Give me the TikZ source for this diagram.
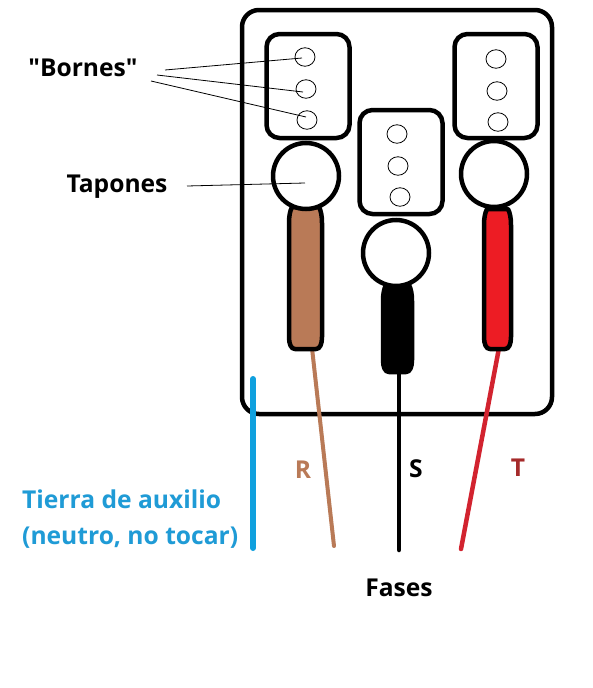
\documentclass[tikz,border=0pt]{standalone}
\usepackage{fontspec}
\setmainfont{Open Sans}
\newfontfamily\labfont{Open Sans}[Ligatures=NoCommon]
\definecolor{brownw}{HTML}{B97A57}
\definecolor{redw}{HTML}{ED1C24}
\definecolor{redwire}{HTML}{D2232F}
\definecolor{bluew}{HTML}{0FA0DE}
\definecolor{bluet}{HTML}{1F9BD6}
\definecolor{redt}{HTML}{A52A2A}
\usetikzlibrary{shapes.geometric}
\tikzset{
  outerbox/.style={draw=black,line width=4.5pt,rounded corners=17pt,minimum width=310pt,minimum height=404pt,inner sep=0pt,outer sep=0pt},
  bornebox/.style={draw=black,line width=4.5pt,rounded corners=13pt,minimum width=83pt,minimum height=104pt,inner sep=0pt,outer sep=0pt},
  borne/.style={draw=black,line width=0.8pt,ellipse,minimum width=20pt,minimum height=18.5pt,inner sep=0pt,outer sep=0pt},
  tapon/.style={draw=black,fill=white,line width=4.5pt,circle,minimum size=66pt,inner sep=0pt,outer sep=0pt},
  mangostyle/.style={draw=black,line width=4.5pt,line join=round},
  wire/.style={line width=#1,line cap=round},
  leader/.style={draw=black,line width=0.8pt},
  lab/.style={font=\labfont\bfseries\fontsize{24.6}{30}\selectfont,inner sep=0pt}
}
% left x, right x, top y, bottom y, fill
\newcommand{\mangopath}[5]{%
  \draw[mangostyle,fill=#5]
    ({#1+3},{#3}) .. controls ({#1+1},{#3+4}) and ({#1},{#3+9}) .. ({#1},{#3+16})
    -- ({#1},{#4-12}) .. controls ({#1},{#4-5}) and ({#1+2},{#4}) .. ({#1+6},{#4})
    -- ({#2-6},{#4}) .. controls ({#2-2},{#4}) and ({#2},{#4-5}) .. ({#2},{#4-12})
    -- ({#2},{#3+16}) .. controls ({#2},{#3+9}) and ({#2-1},{#3+4}) .. ({#2-3},{#3}) -- cycle;}
\begin{document}
\begin{tikzpicture}[x=1pt,y=-1pt]
\useasboundingbox (0,0) rectangle (592,688);
\fill[white] (0,0) rectangle (592,688);
\node[outerbox] (caja) at (397,212) {};
% wires
\coordinate (rtop) at (312,348); \coordinate (rend) at (334,546);
\coordinate (stop) at (399,372); \coordinate (send) at (399,550);
\coordinate (ttop) at (499,348); \coordinate (tend) at (461,549);
\draw[wire=4pt,brownw] (rtop) -- (rend);
\draw[wire=4.5pt,black] (stop) -- (send);
\draw[wire=4.5pt,redwire] (ttop) -- (tend);
\coordinate (ntop) at (253,379); \coordinate (nend) at (253,548);
\draw[wire=6pt,bluew] (ntop) -- (nend);
% handles
\mangopath{289}{322}{207}{349}{brownw}
\mangopath{383}{412}{285}{372}{black}
\mangopath{484}{511}{209}{349}{redw}
% boxes
\node[bornebox] (bl) at (308,86) {};
\node[bornebox] (bm) at (401,162) {};
\node[bornebox] (br) at (496,86) {};
% caps
\node[tapon] (tl) at (306,176) {};
\node[tapon] (tm) at (396,253) {};
\node[tapon] (tr) at (494,174) {};
% terminals
\node[borne] (l1) at (305,57) {};
\node[borne] (l2) at (306,89) {};
\node[borne] (l3) at (307,120) {};
\node[borne] (m1) at (397,134) {};
\node[borne] (m2) at (398,166) {};
\node[borne] (m3) at (400,197) {};
\node[borne] (r1) at (496,59) {};
\node[borne] (r2) at (497,91) {};
\node[borne] (r3) at (498,122) {};
% labels
\node[lab] (bornes) at (83,68) {"Bornes"};
\node[lab] (tapones) at (117,187) {Tapones};
\node[lab,text=bluet,align=left,anchor=west,font=\labfont\bfseries\fontsize{24.6}{36}\selectfont] (tierra) at (22,519) {Tierra de auxilio\\(neutro, no tocar)};
\node[lab,text=brownw] (rlab) at (303,470) {R};
\node[lab,text=black] (slab) at (416,469) {S};
\node[lab,text=redt] (tlab) at (518,468) {T};
\node[lab] (fases) at (399,588) {Fases};
% leaders
\coordinate (b1) at (165,70); \coordinate (b2) at (157,75); \coordinate (b3) at (151,81);
\coordinate (a1) at (302,58); \coordinate (a2) at (303,92); \coordinate (a3) at (306,117);
\coordinate (t1) at (187,186); \coordinate (t2) at (305,183);
\draw[leader] (b1) -- (a1);
\draw[leader] (b2) -- (a2);
\draw[leader] (b3) -- (a3);
\draw[leader] (t1) -- (t2);
\end{tikzpicture}
\end{document}
